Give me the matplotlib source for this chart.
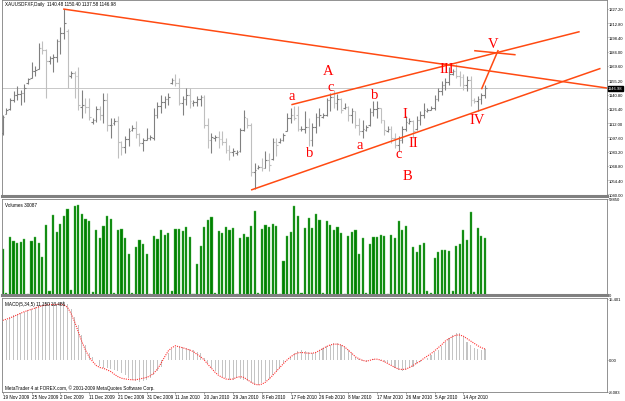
import numpy as np
import matplotlib.pyplot as plt

# XAUUSD daily bars (one entry per bar, oldest first)
high = [1120, 1127, 1137, 1144, 1149, 1145, 1151, 1157, 1174, 1170,
        1193, 1195, 1187, 1180, 1182, 1197, 1209, 1227, 1207, 1165,
        1165, 1169, 1145, 1137, 1137, 1117, 1129, 1129, 1142, 1142,
        1117, 1117, 1119, 1094, 1099, 1107, 1110, 1114, 1102, 1097,
        1107, 1100, 1127, 1133, 1140, 1139, 1142, 1157, 1162, 1157,
        1139, 1147, 1147, 1135, 1139, 1140, 1140, 1117, 1102, 1100,
        1104, 1104, 1097, 1090, 1087, 1085, 1107, 1125, 1117, 1112,
        1072, 1070, 1077, 1084, 1082, 1097, 1097, 1097, 1102, 1122,
        1127, 1129, 1129, 1109, 1124, 1117, 1112, 1122, 1127, 1122,
        1137, 1142, 1145, 1141, 1137, 1132, 1129, 1127, 1124, 1117,
        1115, 1110, 1127, 1134, 1134, 1127, 1115, 1109, 1109, 1102,
        1099, 1109, 1119, 1117, 1115, 1119, 1124, 1132, 1127, 1129,
        1140, 1147, 1154, 1157, 1169, 1167, 1172, 1165, 1162, 1160,
        1159, 1137, 1139, 1142, 1150.40]
low = [1100, 1121, 1125, 1133, 1135, 1130, 1133, 1151, 1157, 1159,
       1167, 1182, 1137, 1172, 1164, 1174, 1182, 1197, 1147, 1157,
       1137, 1125, 1117, 1122, 1115, 1111, 1113, 1115, 1112, 1104,
       1097, 1110, 1077, 1080, 1082, 1089, 1104, 1097, 1089, 1084,
       1095, 1095, 1095, 1117, 1122, 1127, 1130, 1151, 1149, 1130,
       1120, 1130, 1127, 1129, 1129, 1129, 1107, 1087, 1082, 1094,
       1087, 1090, 1082, 1075, 1079, 1080, 1083, 1104, 1107, 1059,
       1045, 1066, 1064, 1067, 1064, 1075, 1079, 1092, 1094, 1104,
       1112, 1115, 1104, 1104, 1102, 1089, 1089, 1102, 1109, 1117,
       1119, 1124, 1127, 1125, 1122, 1126, 1114, 1112, 1107, 1100,
       1097, 1104, 1109, 1119, 1117, 1112, 1100, 1103, 1092, 1087,
       1084, 1092, 1104, 1111, 1097, 1105, 1110, 1117, 1123, 1125,
       1125, 1134, 1140, 1145, 1150, 1161, 1157, 1149, 1145, 1144,
       1129, 1132, 1124, 1131, 1137.58]
open_ = [1102, 1121, 1126, 1135, 1140, 1141, 1142, 1152, 1157, 1165,
         1167, 1188, 1186, 1175, 1178, 1179, 1195, 1203, 1205, 1160,
         1163, 1160, 1128, 1130, 1128, 1113, 1115, 1126, 1120, 1135,
         1110, 1112, 1114, 1093, 1088, 1096, 1105, 1107, 1101, 1092,
         1095, 1097, 1097, 1120, 1129, 1133, 1136, 1152, 1155, 1152,
         1132, 1136, 1140, 1132, 1133, 1136, 1138, 1110, 1095, 1097,
         1098, 1096, 1093, 1085, 1083, 1082, 1084, 1105, 1117, 1110,
         1063, 1067, 1068, 1067, 1075, 1076, 1093, 1093, 1095, 1104,
         1117, 1120, 1120, 1106, 1106, 1108, 1095, 1108, 1118, 1118,
         1120, 1135, 1138, 1132, 1136, 1127, 1128, 1120, 1124, 1110,
         1104, 1105, 1110, 1123, 1126, 1127, 1115, 1104, 1106, 1097,
         1090, 1095, 1106, 1112, 1114, 1106, 1115, 1120, 1124, 1125,
         1127, 1136, 1144, 1150, 1153, 1162, 1165, 1160, 1158, 1150,
         1155, 1135, 1134, 1136, 1140.48]
close = [1118, 1125, 1135, 1140, 1141, 1142, 1147, 1156, 1165, 1166,
         1188, 1186, 1175, 1178, 1179, 1195, 1203, 1213, 1161, 1163,
         1160, 1130, 1130, 1128, 1118, 1115, 1126, 1120, 1135, 1110,
         1110, 1114, 1093, 1088, 1096, 1104, 1107, 1101, 1092, 1095,
         1097, 1098, 1120, 1129, 1133, 1136, 1138, 1155, 1152, 1132,
         1136, 1140, 1134, 1133, 1136, 1138, 1110, 1095, 1098, 1098,
         1096, 1093, 1085, 1083, 1084, 1083, 1105, 1118, 1110, 1063,
         1065, 1068, 1067, 1075, 1070, 1093, 1090, 1095, 1100, 1117,
         1120, 1117, 1106, 1106, 1108, 1095, 1108, 1118, 1120, 1120,
         1135, 1138, 1132, 1136, 1125, 1128, 1120, 1124, 1110, 1104,
         1106, 1108, 1123, 1126, 1127, 1115, 1105, 1106, 1097, 1090,
         1095, 1106, 1113, 1114, 1104, 1115, 1120, 1125, 1125, 1127,
         1136, 1144, 1150, 1153, 1162, 1165, 1160, 1158, 1150, 1155,
         1135, 1134, 1136, 1140, 1146.98]
volume = [28210, 1010, 35670, 33250, 31640, 32240, 34260, 400, 32850, 35260,
          31640, 23580, 42920, 2420, 48970, 38890, 43320, 48360, 53000, 3020,
          54410, 55410, 49370, 46350, 45340, 2020, 39900, 35060, 42520, 48360,
          46350, 1410, 39700, 40300, 34660, 24990, 1210, 29220, 33650, 31030,
          24990, 610, 36270, 34260, 39900, 36670, 37880, 2420, 40300, 40300,
          39290, 41710, 35460, 810, 19140, 30230, 41710, 45940, 47550, 1210,
          39290, 38290, 41710, 39700, 41110, 610, 34660, 37280, 35460, 42320,
          51380, 1010, 40500, 42720, 41510, 43730, 42320, 610, 20550, 36270,
          38690, 54810, 48560, 1410, 41110, 47150, 41310, 49770, 45740, 1010,
          45340, 42920, 39700, 41510, 37880, 610, 35870, 38690, 39900, 25190,
          35060, 1210, 31230, 35260, 35260, 36670, 36270, 610, 36670, 34660,
          45340, 39700, 42320, 1210, 29220, 26600, 30830, 32040, 2420, 1210,
          22770, 26600, 27810, 27810, 26800, 2420, 29820, 31230, 39900, 33850,
          51180, 1810, 41110, 36270, 35060]
macd_main = [9.6, 10.0, 10.8, 11.3, 11.7, 11.9, 12.1, 12.5, 12.9, 13.3,
             13.8, 14.2, 14.4, 14.6, 14.4, 14.2, 14.6, 14.8, 14.2, 12.9,
             10.8, 8.8, 6.3, 3.8, 1.7, 0.8, 0.0, -1.4, -1.9, -2.1,
             -2.3, -2.5, -2.9, -3.3, -3.8, -4.6, -5.0, -5.4, -5.6, -5.3,
             -5.0, -4.6, -3.9, -2.9, -1.7, 0.0, 1.7, 2.9, 3.3, 3.6,
             3.3, 3.1, 2.8, 2.5, 2.1, 1.7, 0.4, -0.8, -2.1, -2.9,
             -3.6, -4.2, -4.6, -5.0, -5.0, -4.6, -4.8, -5.0, -5.4, -5.8,
             -6.3, -6.4, -5.8, -5.4, -4.8, -3.8, -2.9, -1.9, -0.8, 0.0,
             0.8, 1.7, 2.3, 2.5, 2.3, 1.9, 1.7, 1.9, 2.5, 3.1,
             3.6, 3.9, 4.2, 4.2, 3.9, 3.3, 2.5, 1.7, 0.8, 0.3,
             -0.3, -0.6, 0.0, 0.3, 0.0, -0.3, -0.6, -0.8, -1.3, -1.9,
             -2.5, -2.8, -2.5, -2.1, -1.7, -1.1, -0.6, 0.0, 0.6, 1.3,
             1.9, 2.5, 3.6, 4.6, 5.6, 6.4, 6.9, 6.7, 5.8, 4.6,
             3.8, 3.1, 2.8, 2.5, 2.8]
macd_signal = [10.0, 10.3, 10.6, 11.0, 11.4, 11.8, 12.2, 12.5, 12.8, 13.1,
               13.4, 13.7, 13.9, 14.0, 14.0, 14.0, 14.1, 13.9, 13.3, 11.7,
               9.6, 7.1, 4.6, 2.5, 0.8, -0.4, -1.4, -1.9, -2.1, -2.5,
               -2.9, -3.6, -4.2, -4.6, -4.8, -4.9, -5.0, -5.0, -4.8, -4.6,
               -4.4, -4.0, -3.3, -2.3, -0.8, 0.8, 2.3, 3.1, 3.6, 3.3,
               3.1, 2.8, 2.5, 2.1, 1.4, 0.8, 0.0, -1.1, -2.1, -3.1,
               -3.9, -4.4, -4.8, -4.9, -4.8, -4.4, -4.2, -4.4, -5.0, -5.6,
               -6.1, -6.3, -6.1, -5.6, -4.8, -3.9, -2.9, -1.9, -0.9, 0.0,
               0.8, 1.4, 1.8, 1.9, 1.8, 1.7, 1.7, 1.9, 2.4, 2.9,
               3.4, 3.8, 4.0, 4.0, 3.8, 3.3, 2.5, 1.7, 0.8, 0.3,
               -0.1, -0.3, -0.1, 0.2, 0.2, 0.0, -0.4, -0.9, -1.4, -1.9,
               -2.3, -2.4, -2.3, -1.9, -1.4, -0.8, -0.3, 0.4, 1.0, 1.6,
               2.3, 3.1, 3.9, 4.8, 5.4, 5.9, 6.3, 6.3, 6.0, 5.4,
               4.8, 4.2, 3.6, 3.1, 2.8]

date_labels = ["19 Nov 2009", "25 Nov 2009", "2 Dec 2009", "11 Dec 2009",
               "21 Dec 2009", "31 Dec 2009", "11 Jan 2010", "20 Jan 2010",
               "29 Jan 2010", "8 Feb 2010", "17 Feb 2010", "26 Feb 2010",
               "8 Mar 2010", "17 Mar 2010", "26 Mar 2010", "5 Apr 2010",
               "14 Apr 2010"]
date_bars = [0, 8, 16, 24, 32, 40, 48, 56, 64, 72, 80, 88, 96, 104, 112, 120, 128]
price_ticks = [1227.20, 1212.80, 1198.40, 1184.00, 1169.60, 1155.20, 1140.80,
               1126.40, 1112.00, 1097.60, 1083.20, 1068.80, 1054.40, 1040.00]
last_price = 1146.98
vol_max = 58850
macd_top, macd_bottom = 15.401, -8.083

# objects drawn on the chart, in (bar, price)
trend_down = [(17, 1227.0), (168.0, 1147.3)]
channel_up = [(80.4, 1130.7), (160.1, 1204.1)]
channel_low = [(69.2, 1044.7), (165.9, 1166.9)]
v_path = [(133.1, 1146.8), (137.6, 1185.0)]
v_cross = [(131.2, 1185.0), (142.3, 1181.0)]
wave_labels = [("A", 90.4, 1165), ("a", 80.4, 1140), ("c", 91.2, 1149),
               ("b", 103.4, 1141), ("b", 85.4, 1082), ("a", 99.3, 1090),
               ("c", 110.1, 1081), ("B", 112.6, 1059), ("I", 111.8, 1122),
               ("II", 114.0, 1092), ("III", 123.4, 1167), ("IV", 131.8, 1116),
               ("V", 136.2, 1192)]

SMALL = 'Liberation Sans'
FS = 3.3
FS_AX = 2.95

W, H = 625, 402
fig = plt.figure(figsize=(W / 100, H / 100), dpi=100)


def panel(top, bottom, left=2, right=607):
    return fig.add_axes([left / W, 1 - bottom / H, (right - left) / W, (bottom - top) / H])


ax = panel(1, 197)
axv = panel(200, 296)
axm = panel(299, 393)

n = len(close)
x = np.arange(n)
hi, lo, op, cl = (np.array(a, dtype=float) for a in (high, low, open_, close))
x_left, x_right = -0.2, 167.9

# price bars
up = cl >= op
for mask, col in ((up, '#808080'), (~up, '#bfbfbf')):
    ax.vlines(x[mask], lo[mask], hi[mask], color=col, lw=0.8)
    ax.hlines(op[mask], x[mask] - 0.45, x[mask], color=col, lw=0.8)
    ax.hlines(cl[mask], x[mask], x[mask] + 0.45, color=col, lw=0.8)
ax.axhline(last_price, color='#c8c8c8', lw=0.7, zorder=0)

red = '#ff4a12'
for (x0, y0), (x1, y1) in (trend_down,):
    k = (y1 - y0) / (x1 - x0)
    ax.plot([x0, x_right], [y0, y0 + k * (x_right - x0)], color=red, lw=1.1)
for seg in (channel_up, channel_low, v_path, v_cross):
    ax.plot([seg[0][0], seg[1][0]], [seg[0][1], seg[1][1]], color=red, lw=1.1)
for txt, bx, py in wave_labels:
    ax.text(bx, py, txt, color='#ff0000', family='Liberation Serif', fontsize=10.5,
            ha='center', va='center')

ax.set_xlim(x_left, x_right)
ax.set_ylim(1038.4, 1236.2)
ax.set_yticks(price_ticks)
ax.set_yticklabels(['%.2f' % t for t in price_ticks])
ax.text(0.005, 0.995, 'XAUUSDFXF,Daily  1140.48 1150.40 1137.58 1146.98',
        transform=ax.transAxes, fontsize=FS, family=SMALL, va='top', ha='left')
ax.text(1.0015, last_price, '%.2f' % last_price, transform=ax.get_yaxis_transform(),
        fontsize=FS_AX, family=SMALL, color='white', va='center', ha='left',
        bbox=dict(boxstyle='square,pad=0.08', fc='black', ec='black'))

# volumes
axv.bar(x, volume, width=0.6, color='#008000', edgecolor='#5fbf5f', lw=0.3)
axv.set_xlim(x_left, x_right)
axv.set_ylim(0, vol_max)
axv.set_yticks([0, vol_max])
axv.set_yticklabels(['0', str(vol_max)])
axv.text(0.005, 0.97, 'Volumes 30087', transform=axv.transAxes, fontsize=FS,
         family=SMALL, va='top', ha='left')

# MACD
axm.bar(x, macd_main, width=0.3, color='#c4c4c4')
axm.plot(x, macd_signal, color='#ff3030', lw=0.8, ls=(0, (1, 1)))
axm.set_xlim(x_left, x_right)
axm.set_ylim(macd_bottom, macd_top + 0.25)
axm.set_yticks([macd_top, 0, macd_bottom])
axm.set_yticklabels(['%.3f' % macd_top, '0.00', '%.3f' % macd_bottom])
axm.text(0.005, 0.97, 'MACD(5,34,5) 11.150 13.486', transform=axm.transAxes,
         fontsize=FS, family=SMALL, va='top', ha='left')
axm.text(0.005, 0.02, 'MetaTrader 4 at FOREX.com, \u00a9 2001-2009 MetaQuotes Software Corp.',
         transform=axm.transAxes, fontsize=FS, family=SMALL, va='bottom', ha='left')
axm.set_xticks(date_bars)
axm.set_xticklabels(date_labels)
for lab in axm.get_xticklabels():
    lab.set_ha('left')
    lab.set_family(SMALL)

for a in (ax, axv, axm):
    a.yaxis.tick_right()
    a.tick_params(axis='y', labelsize=FS_AX, length=1.0, width=0.5, color='#808080', pad=0.4)
    for lab in a.get_yticklabels():
        lab.set_family(SMALL)
    for side in ('left', 'top', 'right', 'bottom'):
        a.spines[side].set_color('#808080')
        a.spines[side].set_linewidth(0.6)
    a.set_facecolor('white')
for a in (ax, axv):
    a.tick_params(axis='x', bottom=False, labelbottom=False)
    a.spines['bottom'].set_linewidth(2.2)
axm.tick_params(axis='x', labelsize=FS, length=1.2, width=0.5, color='#808080', pad=0.5)

fig.savefig('out.png', dpi=100, facecolor='white')
